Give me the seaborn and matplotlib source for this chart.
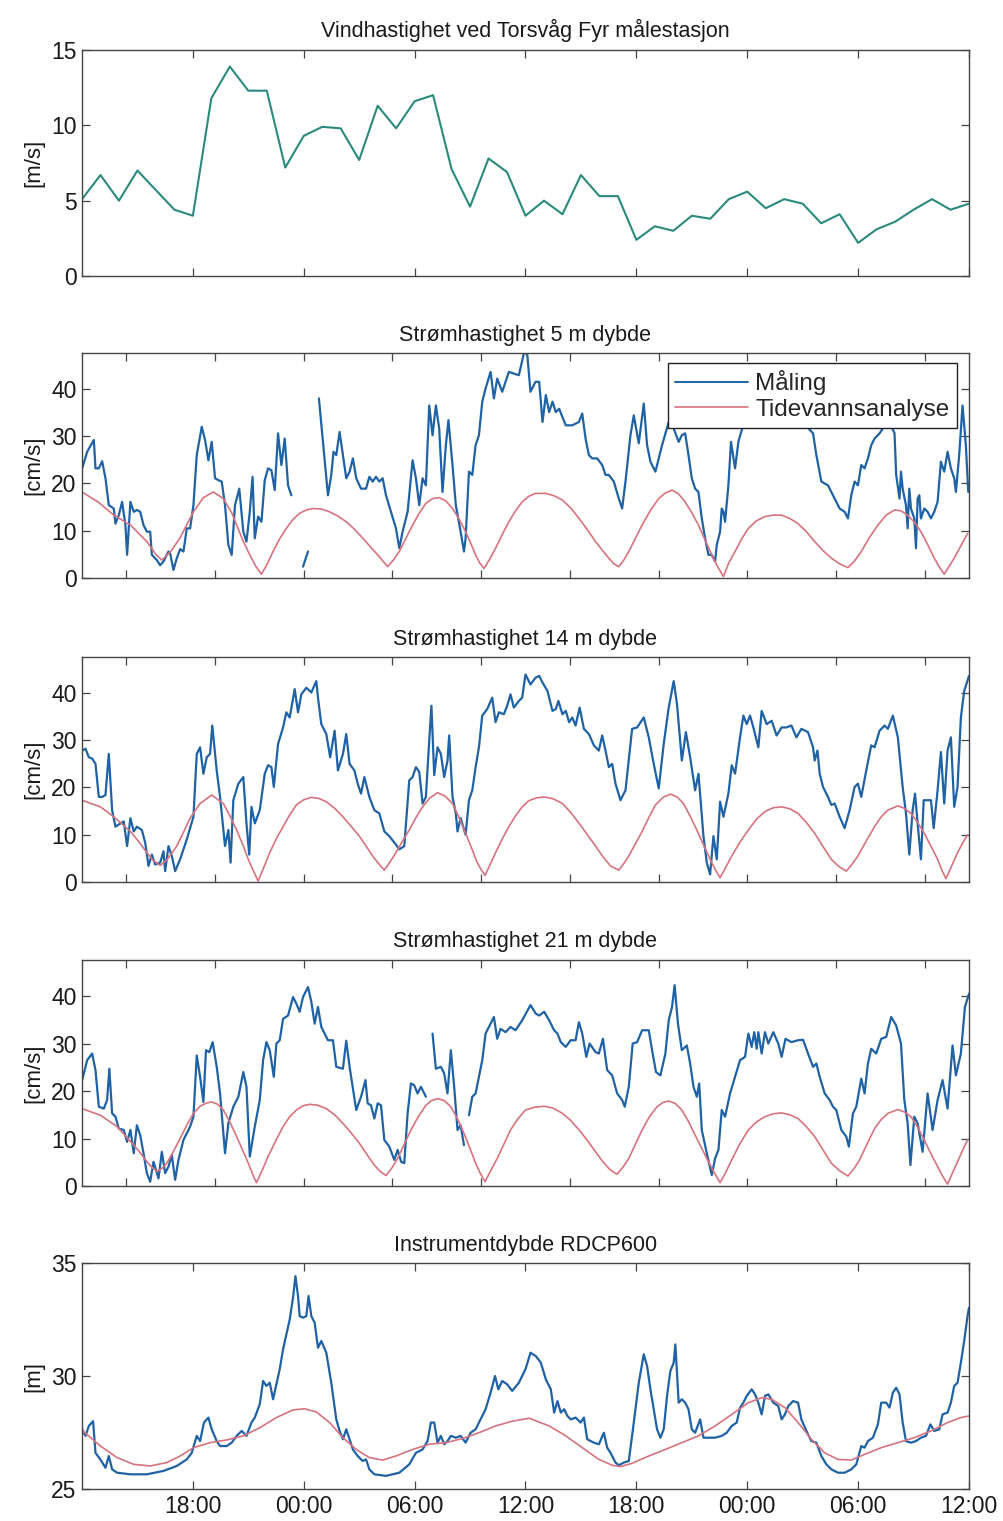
import numpy as np
import matplotlib
matplotlib.use("Agg")
import matplotlib.pyplot as plt
from matplotlib.lines import Line2D
import seaborn as sns

# ---------------------------------------------------------------
# Torsvåg: wind, current speed at 3 depths and instrument depth
# time axis = hours after 12:00 on day 1 (48 h window)
# ---------------------------------------------------------------
NAN = np.nan

# wind, hourly
wind_hours = list(range(49))
wind_speed = [5.1, 6.7, 5.0, 7.0, 5.7, 4.4, 4.0, 11.8, 13.9, 12.3, 12.3, 7.2, 9.3, 9.9,
              9.8, 7.7, 11.3, 9.8, 11.6, 12.0, 7.1, 4.6, 7.8, 6.9, 4.0, 5.0, 4.1, 6.7,
              5.3, 5.3, 2.4, 3.3, 3.0, 4.0, 3.8, 5.1, 5.6, 4.5, 5.1, 4.8, 3.5, 4.1, 2.2,
              3.1, 3.6, 4.4, 5.1, 4.4, 4.8]

# current 5 m (measured), (hour, cm/s), NaN = gap
meas_5m = [
    (0.01, 23.2), (0.28, 26.7), (0.64, 29.2), (0.73, 23.2), (0.91, 23.2), (1.09, 24.7), (1.27, 21.1),
    (1.45, 15.4), (1.72, 14.7), (1.81, 11.5), (1.99, 13.3), (2.17, 16.1), (2.35, 11.2), (2.44, 4.9),
    (2.62, 16.1), (2.8, 14.0), (2.97, 14.4), (3.15, 14.0), (3.33, 11.2), (3.51, 9.8), (3.69, 9.8),
    (3.78, 4.9), (4.05, 3.8), (4.23, 2.7), (4.41, 3.5), (4.68, 5.6), (4.77, 5.2), (4.95, 1.7),
    (5.13, 4.2), (5.31, 6.1), (5.49, 5.6), (5.67, 10.5), (5.85, 10.5), (6.03, 15.4), (6.21, 26.0),
    (6.48, 32.0), (6.66, 29.2), (6.84, 24.9), (7.02, 28.8), (7.2, 21.1), (7.38, 20.7), (7.56, 20.4),
    (7.74, 15.4), (7.92, 7.0), (8.1, 4.9), (8.28, 15.4), (8.51, 18.9), (8.73, 9.8), (8.9, 7.7),
    (9.08, 14.0), (9.23, 21.4), (9.35, 8.4), (9.53, 13.0), (9.71, 11.9), (9.89, 20.7), (10.07, 23.2),
    (10.25, 22.8), (10.43, 18.6), (10.61, 30.6), (10.79, 23.9), (10.97, 29.5), (11.15, 19.6),
    (11.33, 17.5), (11.6, NAN), (11.96, 2.4), (12.23, 5.6), (12.5, NAN), (12.82, 38.0), (13.31, 17.5),
    (13.49, 21.8), (13.61, 26.7), (13.76, 26.0), (13.94, 30.9), (14.12, 26.0), (14.3, 21.1),
    (14.48, 22.5), (14.66, 25.3), (14.84, 21.1), (15.1, 18.9), (15.37, 18.9), (15.55, 21.4),
    (15.73, 20.4), (15.91, 21.4), (16.09, 20.4), (16.27, 21.1), (16.45, 17.5), (16.72, 14.0),
    (16.99, 10.5), (17.17, 6.3), (17.35, 9.8), (17.62, 14.0), (17.89, 24.9), (18.07, 21.1),
    (18.25, 15.4), (18.43, 21.1), (18.61, 19.6), (18.79, 36.5), (18.97, 30.2), (19.15, 36.5),
    (19.33, 31.6), (19.51, 18.2), (19.69, 28.1), (19.83, 33.4), (20.05, 23.9), (20.23, 15.4),
    (20.49, 9.8), (20.67, 5.6), (20.76, 8.4), (20.94, 22.5), (21.12, 21.8), (21.3, 28.1), (21.48, 30.2),
    (21.66, 37.3), (21.84, 40.1), (22.11, 43.6), (22.29, 38.0), (22.47, 42.2), (22.74, 39.4),
    (23.1, 43.6), (23.64, 42.9), (23.91, 47.5), (24.09, 47.5), (24.27, 39.4), (24.54, 41.5),
    (24.74, 41.5), (24.92, 33.0), (25.1, 38.7), (25.28, 35.1), (25.46, 37.3), (25.64, 35.1),
    (25.82, 35.8), (26.18, 32.3), (26.53, 32.3), (26.89, 33.0), (27.07, 34.8), (27.25, 29.5),
    (27.43, 26.0), (27.61, 25.3), (27.88, 25.3), (28.15, 23.9), (28.33, 21.8), (28.51, 21.8),
    (28.78, 20.4), (29.05, 16.8), (29.23, 14.7), (29.41, 20.4), (29.68, 30.2), (29.86, 34.4),
    (30.13, 28.5), (30.4, 36.9), (30.58, 28.1), (30.76, 24.6), (31.03, 22.5), (31.39, 28.1),
    (31.75, 33.0), (32.02, 31.6), (32.29, 28.8), (32.46, 30.2), (32.64, 30.6), (32.82, 26.0),
    (33.0, 21.1), (33.18, 18.9), (33.36, 18.2), (33.54, 12.6), (33.72, 8.4), (33.9, 4.9), (34.08, 4.9),
    (34.26, 3.5), (34.35, 7.0), (34.53, 9.8), (34.62, 14.7), (34.71, 14.0), (34.8, 11.9), (34.98, 19.6),
    (35.12, 28.8), (35.34, 23.2), (35.52, 28.8), (35.7, 31.3), (36.0, 34.0), (36.5, 37.0), (37.0, 36.0),
    (37.5, 38.0), (38.0, 35.0), (38.5, 36.0), (39.0, 33.0), (39.56, 30.6), (39.74, 26.0), (40.01, 20.4),
    (40.37, 19.6), (40.73, 16.8), (41.0, 14.7), (41.27, 14.0), (41.45, 12.6), (41.63, 17.5),
    (41.81, 20.4), (41.99, 19.6), (42.17, 23.9), (42.35, 23.2), (42.53, 25.3), (42.71, 28.1),
    (42.89, 29.5), (43.16, 30.6), (43.4, 32.0), (43.7, 33.0), (43.97, 30.6), (44.06, 21.8),
    (44.24, 16.8), (44.32, 22.5), (44.41, 18.9), (44.59, 15.4), (44.68, 10.5), (44.77, 18.9),
    (44.86, 14.7), (45.04, 12.6), (45.13, 6.3), (45.22, 16.8), (45.31, 17.5), (45.4, 12.6),
    (45.58, 14.7), (45.76, 14.0), (45.94, 12.6), (46.12, 14.0), (46.3, 16.1), (46.48, 24.6),
    (46.66, 22.5), (46.84, 26.7), (47.02, 23.2), (47.2, 21.1), (47.29, 18.2), (47.47, 26.0),
    (47.65, 36.5), (47.83, 28.1), (47.96, 18.2),
]

tide_5m = [
    (0.0, 18.2), (0.9, 16.0), (1.72, 13.3), (2.62, 11.2), (3.51, 7.7), (4.0, 5.0), (4.32, 3.8),
    (4.8, 5.6), (5.31, 8.5), (5.7, 11.5), (6.03, 14.0), (6.57, 17.0), (7.11, 18.2), (7.65, 16.8),
    (8.1, 13.8), (8.37, 11.2), (8.7, 8.0), (9.08, 4.9), (9.4, 2.5), (9.71, 0.8), (10.0, 2.8),
    (10.34, 5.6), (10.7, 8.3), (11.06, 10.5), (11.42, 12.4), (11.78, 13.7), (12.14, 14.4),
    (12.5, 14.7), (12.95, 14.6), (13.4, 14.0), (13.85, 13.1), (14.3, 11.9), (14.75, 10.3),
    (15.2, 8.4), (15.65, 6.4), (16.09, 4.5), (16.54, 2.4), (16.85, 3.8), (17.17, 5.6), (17.53, 8.4),
    (17.89, 11.2), (18.25, 13.7), (18.61, 15.8), (18.97, 16.8), (19.33, 17.0), (19.69, 16.3),
    (20.05, 14.7), (20.4, 12.5), (20.76, 9.8), (21.03, 7.4), (21.3, 4.9), (21.52, 3.2), (21.75, 2.0),
    (22.05, 3.9), (22.38, 6.3), (22.74, 9.2), (23.1, 11.9), (23.46, 14.2), (23.82, 16.1),
    (24.18, 17.3), (24.54, 17.9), (25.1, 17.9), (25.55, 17.4), (25.99, 16.5), (26.45, 14.8),
    (26.9, 12.6), (27.35, 10.2), (27.79, 7.7), (28.15, 5.9), (28.51, 4.2), (28.78, 3.0), (29.05, 2.4),
    (29.32, 3.8), (29.59, 5.6), (29.95, 8.4), (30.31, 11.2), (30.76, 14.3), (31.21, 16.8),
    (31.57, 18.0), (31.93, 18.6), (32.28, 17.8), (32.64, 16.1), (33.0, 13.8), (33.36, 11.2),
    (33.72, 8.0), (34.08, 4.9), (34.4, 2.4), (34.71, 0.3), (35.0, 3.2), (35.34, 5.6), (35.7, 8.3),
    (36.06, 10.5), (36.5, 12.1), (36.96, 13.0), (37.4, 13.3), (37.86, 13.3), (38.3, 12.6),
    (38.75, 11.5), (39.2, 9.8), (39.65, 7.7), (40.1, 5.8), (40.55, 4.2), (41.0, 3.0), (41.45, 2.2),
    (41.8, 3.6), (42.17, 5.6), (42.6, 8.5), (43.07, 11.2), (43.52, 13.3), (43.97, 14.4),
    (44.32, 14.2), (44.68, 13.3), (45.04, 11.8), (45.4, 9.8), (45.76, 7.1), (46.12, 4.2), (46.4, 2.3),
    (46.66, 0.8), (46.93, 2.5), (47.2, 4.2), (47.56, 6.8), (47.92, 9.4),
]

# current 14 m
meas_14m = [
    (0.01, 27.8), (0.19, 28.2), (0.37, 26.4), (0.55, 26.1), (0.73, 25.0), (0.91, 18.0), (1.09, 18.0),
    (1.27, 18.4), (1.45, 27.1), (1.63, 15.2), (1.81, 11.7), (2.08, 12.4), (2.26, 12.8), (2.44, 7.6),
    (2.62, 13.5), (2.8, 10.7), (2.97, 11.7), (3.24, 11.0), (3.42, 8.3), (3.6, 3.4), (3.78, 5.8),
    (3.96, 3.7), (4.23, 4.1), (4.41, 6.5), (4.5, 2.3), (4.68, 7.6), (4.86, 5.5), (5.04, 2.3),
    (5.31, 4.8), (5.67, 9.0), (6.03, 13.8), (6.21, 27.1), (6.39, 28.5), (6.57, 22.9), (6.75, 26.4),
    (6.93, 27.1), (7.05, 33.1), (7.29, 23.6), (7.47, 18.0), (7.74, 7.6), (7.92, 11.0), (8.04, 4.1),
    (8.19, 17.3), (8.46, 20.8), (8.73, 22.2), (8.9, 12.4), (9.05, 5.8), (9.17, 15.9), (9.35, 12.4),
    (9.62, 15.2), (9.89, 22.9), (10.07, 24.7), (10.25, 24.3), (10.38, 20.1), (10.61, 29.2),
    (10.88, 32.7), (11.06, 35.9), (11.24, 34.8), (11.51, 40.8), (11.69, 35.9), (11.87, 39.7),
    (12.14, 41.1), (12.41, 40.1), (12.68, 42.5), (12.77, 39.0), (12.95, 33.4), (13.22, 31.3),
    (13.43, 26.4), (13.67, 32.0), (13.85, 23.6), (14.12, 27.1), (14.3, 31.3), (14.48, 25.0),
    (14.74, 23.6), (14.92, 20.8), (15.1, 18.7), (15.28, 22.2), (15.55, 18.0), (15.82, 15.2),
    (16.09, 14.5), (16.36, 10.7), (16.63, 9.7), (16.99, 7.9), (17.17, 6.9), (17.44, 7.6),
    (17.71, 21.5), (17.89, 22.2), (18.07, 24.3), (18.25, 23.3), (18.43, 16.6), (18.61, 18.0),
    (18.79, 29.9), (18.91, 37.3), (19.06, 22.6), (19.24, 28.5), (19.42, 27.1), (19.6, 22.2),
    (19.78, 25.7), (19.87, 31.0), (20.05, 18.0), (20.23, 14.5), (20.32, 10.7), (20.49, 13.5),
    (20.76, 10.0), (20.94, 17.3), (21.12, 19.4), (21.3, 24.3), (21.48, 28.5), (21.66, 35.2),
    (21.93, 36.6), (22.2, 39.0), (22.38, 33.8), (22.56, 35.9), (22.83, 35.5), (23.01, 37.3),
    (23.19, 39.7), (23.37, 36.9), (23.64, 38.3), (23.82, 39.0), (24.0, 43.9), (24.27, 41.8),
    (24.54, 43.2), (24.74, 43.6), (24.92, 42.2), (25.19, 40.4), (25.46, 36.2), (25.64, 36.6),
    (25.78, 38.3), (26.0, 35.5), (26.18, 36.2), (26.36, 33.8), (26.53, 34.8), (26.71, 33.1),
    (26.93, 36.9), (27.16, 32.4), (27.43, 31.3), (27.7, 28.9), (27.97, 27.8), (28.15, 31.0),
    (28.33, 27.8), (28.51, 24.3), (28.69, 25.0), (28.87, 20.8), (29.14, 17.3), (29.41, 19.4),
    (29.77, 32.4), (30.04, 32.7), (30.4, 34.8), (30.67, 30.6), (30.94, 25.0), (31.21, 19.8),
    (31.48, 29.2), (31.75, 36.9), (32.02, 42.5), (32.2, 37.6), (32.46, 25.7), (32.68, 31.7),
    (32.91, 26.4), (33.18, 19.4), (33.36, 22.9), (33.63, 9.7), (33.81, 4.1), (33.99, 1.6),
    (34.17, 9.7), (34.35, 4.8), (34.53, 17.0), (34.71, 13.8), (34.98, 18.7), (35.16, 24.7),
    (35.34, 22.9), (35.61, 30.6), (35.79, 35.2), (35.97, 33.4), (36.15, 35.2), (36.33, 32.7),
    (36.6, 28.5), (36.78, 36.2), (37.05, 33.4), (37.32, 34.1), (37.59, 31.0), (37.86, 32.7),
    (38.12, 32.7), (38.39, 33.1), (38.66, 30.6), (38.93, 32.4), (39.29, 31.7), (39.56, 28.5),
    (39.65, 25.7), (39.8, 27.8), (39.92, 22.9), (40.1, 20.1), (40.37, 18.0), (40.55, 16.3),
    (40.73, 16.6), (41.0, 13.8), (41.27, 11.4), (41.54, 15.2), (41.81, 20.1), (41.99, 20.8),
    (42.17, 18.0), (42.44, 23.6), (42.71, 28.9), (42.89, 28.5), (43.16, 32.0), (43.43, 33.1),
    (43.61, 32.4), (43.88, 35.2), (44.15, 30.6), (44.41, 20.1), (44.59, 14.5), (44.77, 5.8),
    (44.95, 15.2), (45.08, 18.7), (45.22, 12.4), (45.4, 4.8), (45.55, 17.3), (45.76, 17.3),
    (45.94, 17.3), (46.09, 11.4), (46.3, 19.4), (46.48, 27.5), (46.66, 16.6), (46.84, 27.8),
    (47.02, 30.6), (47.2, 15.9), (47.38, 20.1), (47.56, 34.8), (47.74, 40.4), (48.0, 43.6),
]

tide_14m = [
    (0.0, 17.3), (1.0, 15.9), (1.72, 13.8), (2.62, 10.7), (3.1, 8.4), (3.51, 6.2), (3.85, 4.6),
    (4.23, 3.5), (4.6, 4.7), (5.13, 7.6), (5.5, 10.6), (5.85, 13.5), (6.39, 16.6), (7.02, 18.4),
    (7.65, 16.6), (8.0, 14.0), (8.37, 11.0), (8.7, 7.9), (9.0, 4.8), (9.27, 2.4), (9.53, 0.2),
    (9.85, 3.2), (10.16, 6.2), (10.52, 9.2), (10.88, 11.7), (11.24, 14.2), (11.6, 16.3), (12.0, 17.4),
    (12.41, 17.9), (12.8, 17.7), (13.22, 17.0), (13.67, 15.6), (14.12, 13.8), (14.56, 11.8),
    (15.01, 9.7), (15.37, 7.6), (15.73, 5.5), (16.05, 3.9), (16.36, 2.5), (16.68, 4.3), (16.99, 6.2),
    (17.35, 8.7), (17.71, 11.0), (18.07, 13.6), (18.43, 15.9), (18.83, 17.8), (19.24, 18.9),
    (19.64, 18.2), (20.05, 16.6), (20.4, 13.7), (20.76, 10.3), (21.1, 7.0), (21.39, 4.1), (21.6, 2.6),
    (21.81, 1.4), (22.1, 3.8), (22.38, 6.2), (22.74, 9.1), (23.1, 11.7), (23.46, 14.0), (23.82, 15.9),
    (24.18, 17.2), (24.6, 17.8), (25.01, 18.0), (25.5, 17.6), (26.0, 16.6), (26.45, 14.7),
    (26.9, 12.4), (27.35, 10.0), (27.79, 7.6), (28.2, 5.3), (28.6, 3.4), (29.05, 2.5), (29.32, 3.9),
    (29.59, 5.5), (29.95, 8.1), (30.31, 10.7), (30.67, 13.6), (31.03, 16.3), (31.44, 17.9),
    (31.84, 18.6), (32.2, 18.0), (32.55, 16.6), (32.9, 14.0), (33.27, 11.0), (33.63, 7.9),
    (33.99, 4.8), (34.26, 2.7), (34.53, 0.9), (34.85, 3.2), (35.16, 5.5), (35.6, 8.4), (36.06, 11.0),
    (36.5, 13.3), (36.96, 14.9), (37.4, 15.7), (37.86, 15.9), (38.3, 15.5), (38.75, 14.5),
    (39.2, 12.6), (39.65, 10.3), (40.1, 7.5), (40.55, 4.8), (40.95, 3.3), (41.36, 2.3), (41.68, 3.8),
    (41.99, 5.5), (42.44, 8.7), (42.89, 11.7), (43.25, 13.8), (43.61, 15.2), (44.15, 16.1),
    (44.5, 15.6), (44.86, 14.5), (45.22, 12.6), (45.58, 10.3), (45.94, 7.6), (46.3, 4.8),
    (46.52, 2.6), (46.75, 0.7), (47.05, 3.3), (47.38, 6.2), (47.65, 8.2), (47.92, 10.0),
]

# current 21 m
meas_21m = [
    (0.01, 22.3), (0.28, 26.5), (0.55, 27.9), (0.73, 24.4), (0.91, 16.7), (1.18, 16.3), (1.36, 18.1),
    (1.48, 24.7), (1.63, 15.3), (1.81, 14.6), (1.99, 12.1), (2.26, 11.8), (2.44, 9.3), (2.62, 11.8),
    (2.8, 6.9), (2.97, 12.8), (3.15, 10.7), (3.33, 6.9), (3.51, 2.7), (3.69, 0.9), (3.87, 5.1),
    (4.14, 1.6), (4.32, 7.2), (4.5, 2.7), (4.68, 4.1), (4.86, 6.5), (5.04, 1.3), (5.22, 5.5),
    (5.49, 9.7), (5.85, 12.5), (6.03, 14.6), (6.21, 27.5), (6.39, 23.0), (6.57, 17.7), (6.71, 28.6),
    (6.89, 28.2), (7.07, 30.3), (7.29, 25.1), (7.47, 19.5), (7.74, 6.9), (7.92, 13.2), (8.19, 16.7),
    (8.46, 18.8), (8.73, 24.0), (8.9, 20.9), (9.08, 6.2), (9.35, 12.5), (9.62, 18.1), (9.8, 26.5),
    (9.98, 30.3), (10.16, 28.6), (10.38, 23.0), (10.52, 30.0), (10.7, 30.7), (10.88, 35.2),
    (11.15, 35.9), (11.42, 39.8), (11.6, 38.4), (11.78, 36.7), (11.96, 39.8), (12.23, 41.9),
    (12.41, 38.8), (12.59, 34.2), (12.77, 37.7), (12.95, 33.5), (13.31, 30.7), (13.58, 30.7),
    (13.76, 25.1), (14.12, 24.7), (14.3, 30.6), (14.48, 25.1), (14.84, 16.0), (15.1, 18.8),
    (15.34, 22.3), (15.46, 17.4), (15.64, 17.0), (15.82, 14.2), (16.0, 17.4), (16.18, 17.0),
    (16.36, 9.7), (16.63, 8.3), (16.9, 5.5), (17.08, 7.6), (17.27, 5.1), (17.44, 4.8), (17.62, 15.3),
    (17.8, 21.6), (17.98, 21.2), (18.16, 19.5), (18.34, 20.9), (18.61, 18.8), (18.8, NAN),
    (18.97, 32.1), (19.15, 24.7), (19.42, 25.1), (19.6, 23.7), (19.78, 19.5), (19.96, 28.6),
    (20.14, 20.9), (20.32, 11.8), (20.49, 12.8), (20.67, 8.6), (20.8, NAN), (20.94, 14.9),
    (21.12, 18.8), (21.3, 19.5), (21.48, 23.0), (21.66, 26.5), (21.84, 32.1), (22.06, 33.8),
    (22.29, 35.6), (22.47, 31.0), (22.65, 33.1), (22.92, 32.4), (23.19, 33.5), (23.46, 32.8),
    (23.82, 34.9), (24.27, 38.1), (24.56, 36.3), (24.74, 35.9), (25.01, 36.7), (25.28, 34.9),
    (25.55, 32.8), (25.73, 32.1), (25.91, 30.3), (26.18, 29.3), (26.44, 30.7), (26.71, 30.7),
    (26.89, 34.5), (27.07, 32.1), (27.29, 27.2), (27.47, 30.0), (27.79, 28.2), (27.97, 27.9),
    (28.19, 31.0), (28.42, 24.4), (28.69, 23.3), (28.96, 19.5), (29.23, 18.1), (29.37, 16.7),
    (29.59, 20.9), (29.8, 30.0), (30.04, 30.3), (30.31, 32.8), (30.67, 32.8), (30.85, 28.6),
    (31.06, 24.0), (31.3, 23.3), (31.57, 27.9), (31.75, 34.9), (31.93, 37.7), (32.07, 42.3),
    (32.25, 34.2), (32.46, 28.6), (32.73, 29.6), (32.91, 25.8), (33.09, 20.9), (33.27, 18.8),
    (33.4, 21.6), (33.54, 11.8), (33.81, 6.9), (34.08, 2.3), (34.26, 5.8), (34.44, 7.6), (34.62, 16.0),
    (34.8, 14.6), (35.07, 19.5), (35.34, 23.0), (35.61, 26.5), (35.88, 27.2), (36.06, 32.1),
    (36.24, 29.3), (36.38, 32.4), (36.51, 28.9), (36.6, 32.4), (36.78, 27.9), (36.96, 32.4),
    (37.14, 30.0), (37.41, 32.4), (37.68, 30.0), (37.86, 27.2), (38.07, 31.0), (38.39, 30.3),
    (38.75, 30.7), (39.02, 30.8), (39.29, 27.9), (39.56, 25.1), (39.74, 25.8), (39.92, 23.0),
    (40.19, 19.5), (40.46, 18.1), (40.64, 16.7), (40.82, 16.0), (41.09, 11.8), (41.36, 10.4),
    (41.5, 8.3), (41.72, 15.3), (41.9, 16.7), (42.17, 22.6), (42.35, 19.5), (42.53, 25.8),
    (42.71, 28.9), (42.98, 27.9), (43.25, 31.0), (43.52, 31.4), (43.79, 35.6), (44.06, 33.8),
    (44.32, 30.0), (44.5, 18.1), (44.68, 13.2), (44.83, 4.4), (45.04, 14.6), (45.22, 13.2),
    (45.49, 7.2), (45.76, 19.5), (46.03, 11.8), (46.3, 18.1), (46.57, 22.3), (46.84, 16.3),
    (47.11, 29.6), (47.29, 23.3), (47.56, 27.9), (47.78, 37.7), (48.0, 40.5),
]

tide_21m = [
    (0.0, 16.3), (1.0, 14.9), (1.9, 12.5), (2.8, 8.6), (3.15, 7.0), (3.51, 5.1), (3.8, 3.9),
    (4.05, 3.1), (4.32, 3.7), (4.59, 4.8), (4.95, 7.3), (5.31, 10.0), (5.67, 12.8), (6.03, 15.3),
    (6.39, 16.8), (6.75, 17.5), (7.02, 17.7), (7.35, 17.2), (7.65, 16.0), (8.0, 13.5), (8.37, 10.4),
    (8.7, 7.5), (9.0, 4.8), (9.22, 2.6), (9.44, 0.7), (9.75, 3.3), (10.07, 6.2), (10.47, 9.4),
    (10.88, 12.5), (11.24, 14.6), (11.6, 16.0), (11.96, 16.9), (12.32, 17.2), (12.77, 17.0),
    (13.22, 16.3), (13.67, 15.0), (14.12, 13.2), (14.56, 11.2), (15.01, 9.0), (15.41, 6.7),
    (15.82, 4.4), (16.13, 3.1), (16.45, 2.2), (16.77, 3.8), (17.08, 5.8), (17.44, 8.8), (17.8, 11.8),
    (18.2, 14.6), (18.61, 17.0), (18.92, 18.0), (19.24, 18.4), (19.6, 18.0), (19.96, 16.7),
    (20.31, 14.2), (20.67, 11.1), (21.0, 7.9), (21.3, 4.8), (21.55, 2.7), (21.81, 0.9), (22.14, 3.4),
    (22.47, 5.8), (22.83, 8.8), (23.19, 11.8), (23.6, 14.2), (24.0, 16.0), (24.5, 16.6), (25.01, 16.8),
    (25.5, 16.4), (26.0, 15.3), (26.45, 13.8), (26.9, 11.8), (27.35, 9.6), (27.79, 7.2), (28.15, 5.3),
    (28.51, 3.7), (28.73, 3.0), (28.96, 2.5), (29.28, 4.0), (29.59, 5.8), (29.95, 8.8), (30.31, 11.8),
    (30.71, 14.6), (31.12, 16.7), (31.44, 17.6), (31.75, 17.9), (32.1, 17.4), (32.46, 16.0),
    (32.82, 13.6), (33.18, 10.7), (33.54, 7.9), (33.9, 5.1), (34.22, 2.8), (34.53, 0.7), (34.85, 3.0),
    (35.16, 5.5), (35.6, 8.9), (36.06, 11.8), (36.5, 13.5), (36.96, 14.6), (37.4, 15.2), (37.86, 15.4),
    (38.3, 15.0), (38.75, 14.2), (39.2, 12.5), (39.65, 10.4), (40.1, 7.6), (40.55, 4.8), (41.0, 3.2),
    (41.45, 2.1), (41.77, 3.6), (42.08, 5.5), (42.49, 8.9), (42.89, 12.1), (43.25, 14.0), (43.61, 15.3),
    (44.15, 16.1), (44.5, 15.6), (44.86, 14.6), (45.22, 12.4), (45.58, 9.7), (45.94, 6.8), (46.3, 4.1),
    (46.57, 2.1), (46.84, 0.4), (47.11, 2.8), (47.38, 5.1), (47.65, 7.5), (47.92, 9.7),
]

# instrument depth RDCP600 [m]
meas_depth = [
    (0.01, 27.64), (0.19, 27.35), (0.37, 27.79), (0.6, 28.0), (0.73, 26.6), (1.0, 26.3), (1.27, 25.94),
    (1.45, 26.46), (1.63, 25.87), (1.9, 25.72), (2.62, 25.65), (3.51, 25.65), (4.41, 25.8),
    (5.13, 26.02), (5.67, 26.31), (5.94, 26.6), (6.21, 27.35), (6.39, 27.12), (6.6, 27.94),
    (6.84, 28.16), (7.02, 27.64), (7.29, 27.12), (7.47, 26.9), (7.83, 26.9), (8.1, 27.05),
    (8.37, 27.35), (8.64, 27.57), (8.9, 27.35), (9.17, 27.94), (9.35, 28.16), (9.62, 28.75),
    (9.8, 29.78), (9.98, 29.56), (10.16, 29.7), (10.34, 28.97), (10.52, 29.63), (10.7, 30.3),
    (10.88, 31.18), (11.06, 31.84), (11.24, 32.5), (11.42, 33.47), (11.55, 34.42), (11.69, 33.54),
    (11.78, 32.65), (11.96, 32.58), (12.14, 32.65), (12.26, 33.54), (12.41, 32.65), (12.59, 32.36),
    (12.77, 31.25), (12.95, 31.55), (13.22, 31.03), (13.49, 29.7), (13.76, 28.08), (13.94, 27.57),
    (14.12, 27.2), (14.3, 27.64), (14.48, 27.2), (14.66, 26.75), (14.92, 26.46), (15.19, 26.24),
    (15.37, 26.31), (15.55, 25.87), (15.82, 25.65), (16.45, 25.58), (17.17, 25.72), (17.71, 26.09),
    (18.07, 26.6), (18.43, 26.75), (18.7, 27.12), (18.88, 27.94), (19.06, 27.94), (19.24, 27.05),
    (19.42, 27.35), (19.6, 26.98), (19.78, 27.12), (19.96, 27.35), (20.23, 27.27), (20.49, 27.35),
    (20.76, 27.05), (21.03, 27.49), (21.3, 27.64), (21.57, 28.08), (21.84, 28.53), (22.11, 29.26),
    (22.35, 30.0), (22.53, 29.41), (22.74, 29.78), (23.01, 29.63), (23.28, 29.34), (23.64, 29.7),
    (24.0, 30.3), (24.27, 31.03), (24.56, 30.88), (24.83, 30.59), (25.1, 29.85), (25.37, 29.41),
    (25.55, 28.38), (25.73, 28.89), (25.91, 28.38), (26.09, 28.53), (26.27, 28.23), (26.45, 28.08),
    (26.71, 28.16), (26.98, 27.94), (27.16, 28.16), (27.34, 27.2), (27.7, 27.05), (27.97, 26.98),
    (28.24, 27.49), (28.42, 26.83), (28.6, 26.6), (28.87, 26.17), (29.05, 26.05), (29.32, 26.17),
    (29.59, 26.24), (29.86, 27.94), (30.13, 29.7), (30.4, 30.96), (30.58, 30.44), (30.76, 29.41),
    (30.94, 28.53), (31.12, 27.64), (31.3, 27.27), (31.48, 27.64), (31.66, 29.12), (31.84, 30.22),
    (32.02, 30.59), (32.11, 31.4), (32.29, 28.82), (32.46, 28.97), (32.64, 28.82), (32.82, 28.53),
    (33.0, 27.64), (33.18, 27.49), (33.45, 28.08), (33.63, 27.27), (33.9, 27.27), (34.26, 27.27),
    (34.62, 27.35), (34.89, 27.49), (35.16, 27.79), (35.43, 27.94), (35.61, 28.6), (35.79, 28.82),
    (35.97, 29.12), (36.24, 29.41), (36.42, 29.19), (36.6, 28.82), (36.78, 28.3), (36.96, 29.12),
    (37.14, 29.19), (37.41, 28.82), (37.68, 28.67), (37.86, 28.08), (38.04, 28.3), (38.22, 28.67),
    (38.48, 28.89), (38.75, 28.82), (38.93, 28.08), (39.2, 27.57), (39.47, 27.12), (39.74, 27.05),
    (40.01, 26.46), (40.28, 26.09), (40.55, 25.87), (40.91, 25.72), (41.27, 25.72), (41.63, 25.87),
    (41.9, 26.09), (42.17, 26.9), (42.35, 26.83), (42.53, 27.12), (42.8, 27.27), (43.07, 27.86),
    (43.25, 28.82), (43.52, 28.82), (43.7, 28.6), (43.88, 29.26), (44.06, 29.48), (44.24, 29.19),
    (44.41, 27.94), (44.59, 27.12), (44.86, 27.05), (45.13, 27.12), (45.4, 27.27), (45.67, 27.35),
    (45.91, 27.86), (46.12, 27.57), (46.39, 27.64), (46.57, 28.3), (46.84, 28.38), (47.02, 28.82),
    (47.2, 29.56), (47.38, 29.7), (47.56, 30.59), (47.74, 31.55), (47.92, 32.65), (48.0, 33.02),
]

tide_depth = [
    (0.0, 27.6), (1.0, 26.9), (1.9, 26.39), (2.8, 26.09), (3.69, 26.02), (4.59, 26.17), (5.31, 26.46),
    (6.03, 26.83), (6.93, 27.05), (7.83, 27.17), (8.73, 27.35), (9.62, 27.71), (10.52, 28.16),
    (11.42, 28.5), (12.05, 28.55), (12.68, 28.41), (13.4, 27.94), (14.12, 27.27), (14.84, 26.75),
    (15.55, 26.39), (16.27, 26.28), (16.99, 26.46), (17.89, 26.75), (18.79, 26.98), (19.69, 27.05),
    (20.58, 27.23), (21.48, 27.49), (22.38, 27.79), (23.28, 28.0), (24.2, 28.13), (25.28, 27.79),
    (26.18, 27.35), (27.07, 26.83), (27.97, 26.31), (28.69, 26.05), (29.14, 25.99), (29.77, 26.14),
    (30.67, 26.46), (31.57, 26.75), (32.46, 27.05), (33.36, 27.35), (34.26, 27.79), (35.16, 28.3),
    (36.06, 28.82), (36.78, 29.04), (37.32, 28.97), (38.04, 28.6), (38.75, 27.94), (39.47, 27.2),
    (40.19, 26.6), (40.91, 26.31), (41.63, 26.28), (42.35, 26.53), (43.25, 26.83), (44.15, 27.05),
    (45.04, 27.27), (45.94, 27.57), (46.84, 27.94), (47.56, 28.16), (48.0, 28.23),
]

titles = ["Vindhastighet ved Torsvåg Fyr målestasjon", "Strømhastighet 5 m dybde",
          "Strømhastighet 14 m dybde", "Strømhastighet 21 m dybde", "Instrumentdybde RDCP600"]
ylabels = ["[m/s]", "[cm/s]", "[cm/s]", "[cm/s]", "[m]"]
time_labels = ["18:00", "00:00", "06:00", "12:00", "18:00", "00:00", "06:00", "12:00"]
legend_labels = ["Måling", "Tidevannsanalyse"]

BLUE = "#1f62a5"
RED = "#d8737d"
TEAL = "#2a8a7e"

sns.set_theme(style="ticks")
plt.rcParams["font.family"] = ["Liberation Sans", "DejaVu Sans"]
plt.rcParams["axes.edgecolor"] = "#444444"
plt.rcParams["xtick.color"] = "#444444"
plt.rcParams["ytick.color"] = "#444444"
plt.rcParams["xtick.labelcolor"] = "#1a1a1a"
plt.rcParams["ytick.labelcolor"] = "#1a1a1a"


def split_nan(pairs):
    arr = np.array(pairs, dtype=float)
    t, v = arr[:, 0], arr[:, 1]
    cuts = np.where(np.isnan(v))[0]
    for chunk in np.split(np.arange(len(v)), cuts):
        chunk = chunk[~np.isnan(v[chunk])]
        if len(chunk) > 1:
            yield t[chunk], v[chunk]


def draw(ax, pairs, color, lw):
    for t, v in split_nan(pairs):
        sns.lineplot(x=t, y=v, ax=ax, color=color, linewidth=lw,
                     estimator=None, sort=False, legend=False)


fig = plt.figure(figsize=(10.04, 15.21), dpi=100)
left, width = 82 / 1004, 887 / 1004
rows = [(276, 226), (578, 225), (882, 225), (1186, 226), (1489, 226)]
axes = [fig.add_axes([left, 1 - b / 1521, width, h / 1521]) for b, h in rows]

# wind
sns.lineplot(x=wind_hours, y=wind_speed, ax=axes[0], color=TEAL, linewidth=1.5,
             estimator=None, legend=False)

for ax, m, td in zip(axes[1:], [meas_5m, meas_14m, meas_21m, meas_depth],
                     [tide_5m, tide_14m, tide_21m, tide_depth]):
    draw(ax, m, BLUE, 1.6)
    draw(ax, td, RED, 1.2)

six_hour = [6, 12, 18, 24, 30, 36, 42, 48]
datenum_ticks = [2.4 + 4.8 * k for k in range(10)]

for i, ax in enumerate(axes):
    ax.set_xlim(0, 48)
    ax.set_title(titles[i], fontsize=15.5, pad=9, color="#1a1a1a")
    ax.set_ylabel(ylabels[i], fontsize=16, labelpad=5, color="#1a1a1a")
    ax.set_xlabel("")
    ax.tick_params(direction="in", length=6, width=0.9, top=True, right=True,
                   labelsize=16.5, pad=4)
    for s in ax.spines.values():
        s.set_linewidth(1.0)
    if i in (0, 4):
        ax.set_xticks(six_hour)
    else:
        ax.set_xticks(datenum_ticks)
    if i == 4:
        ax.set_xticklabels(time_labels)
    else:
        ax.set_xticklabels([])

axes[0].set_ylim(0, 15)
axes[0].set_yticks([0, 5, 10, 15])
for ax in axes[1:4]:
    ax.set_ylim(0, 47.6)
    ax.set_yticks([0, 10, 20, 30, 40])
axes[4].set_ylim(25, 35)
axes[4].set_yticks([25, 30, 35])

handles = [Line2D([0], [0], color=BLUE, lw=1.4), Line2D([0], [0], color=RED, lw=1.2)]
leg = axes[1].legend(handles, legend_labels, loc="upper right",
                     bbox_to_anchor=(0.9865, 0.9556), borderaxespad=0, fontsize=17.5,
                     frameon=True, fancybox=False, framealpha=1, edgecolor="#222222",
                     borderpad=0.3, labelspacing=0.15, handlelength=3.0, handletextpad=0.3)
leg.get_frame().set_linewidth(1.0)

fig.savefig("out.png", dpi=100, facecolor="white")
